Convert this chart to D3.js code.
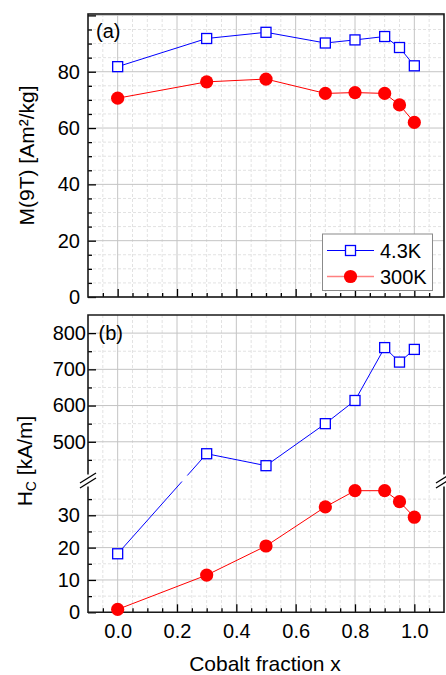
<!DOCTYPE html>
<html>
<head>
<meta charset="utf-8">
<script src="https://cdn.jsdelivr.net/npm/d3@7"></script>
<style>
body { margin: 0; background: #fff; }
text { font-family: "Liberation Sans", Arial, sans-serif; fill: #000; }
</style>
</head>
<body>
<div id="chart"></div>
<script>
/* data */
var cobalt = [0, 0.3, 0.5, 0.7, 0.8, 0.9, 0.95, 1.0];
var m43K = [81.8, 91.8, 94.0, 90.2, 91.3, 92.5, 88.6, 82.1];
var m300K = [70.6, 76.4, 77.4, 72.3, 72.6, 72.3, 68.2, 62.0];
var hc43K = [18.1, 467, 434, 550, 614, 760, 720, 755];
var hc300K = [0.9, 11.5, 20.5, 32.6, 37.6, 37.6, 34.2, 29.4];

var seriesNames = ["4.3K", "300K"];
var xTicks = [0, 0.2, 0.4, 0.6, 0.8, 1.0];
var mTicks = [0, 20, 40, 60, 80];
var hcLowTicks = [0, 10, 20, 30];
var hcHighTicks = [500, 600, 700, 800];

var width = 446,
    height = 675,
    left = 88,
    right = 444;

var blue = "#0000ff",
    red = "#ff0000";

var svg = d3.select("#chart")
    .append("svg")
    .attr("width", width)
    .attr("height", height);

/* scales */
var x = d3.scaleLinear().domain([-0.1, 1.1]).range([left, right]);
var yM = d3.scaleLinear().domain([0, 100.5]).range([297, 14]);
var yLow = d3.scaleLinear().domain([0, 40.6]).range([612.3, 481]);
var yHigh = d3.scaleLinear().domain([400, 850]).range([478, 315]);
var yHc = function(v) { return v < 100 ? yLow(v) : yHigh(v); };

var breakY = 480.5;

var near = function(a, b) { return Math.abs(a - b) < 1e-6; };
var xMinor = d3.range(-0.05, 1.09, 0.05).filter(function(v) {
    return !xTicks.some(function(t) { return near(t, v); });
});
var mMinor = d3.range(5, 100, 5).filter(function(v) { return v % 20 != 0; });
var lowMinor = [5, 15, 25, 35];
var highMinor = [450, 550, 650, 750];

/* gridlines */
var hGrid = function(g, scale, vals, x1, x2, minor) {
    g.selectAll(null)
        .data(vals)
        .enter().append("line")
        .attr("x1", x1).attr("x2", x2)
        .attr("y1", function(d) { return scale(d); })
        .attr("y2", function(d) { return scale(d); })
        .attr("stroke", minor ? "#e2e2e2" : "#c4c4c4")
        .attr("stroke-width", 1)
        .attr("stroke-dasharray", minor ? "3,2" : null);
}
var vGrid = function(g, vals, y1, y2, minor) {
    g.selectAll(null)
        .data(vals)
        .enter().append("line")
        .attr("x1", function(d) { return x(d); })
        .attr("x2", function(d) { return x(d); })
        .attr("y1", y1).attr("y2", y2)
        .attr("stroke", minor ? "#e2e2e2" : "#c4c4c4")
        .attr("stroke-width", 1)
        .attr("stroke-dasharray", minor ? "3,2" : null);
}

var grid = svg.append("g");
vGrid(grid, xMinor, 14, 297, true);
vGrid(grid, xMinor, 315, 612.3, true);
hGrid(grid, yM, mMinor, left, right, true);
hGrid(grid, yLow, lowMinor, left, right, true);
hGrid(grid, yHigh, highMinor, left, right, true);
vGrid(grid, xTicks, 14, 297, false);
vGrid(grid, xTicks, 315, 612.3, false);
hGrid(grid, yM, mTicks.concat([100]), left, right, false);
hGrid(grid, yLow, hcLowTicks, left, right, false);
hGrid(grid, yHigh, hcHighTicks, left, right, false);

/* axes with inward ticks */
var tickAxis = function(axis, vals, size, pad, labels) {
    return axis.tickValues(vals)
        .tickSizeInner(-size)
        .tickSizeOuter(0)
        .tickPadding(pad)
        .tickFormat(labels ? d3.format(labels) : "");
}
var styleAxis = function(g) {
    g.select(".domain").remove();
    g.selectAll(".tick line").attr("stroke", "#000").attr("stroke-width", 1.3);
    g.selectAll("text")
        .style("font-family", "'Liberation Sans', Arial, sans-serif")
        .style("font-size", "20px")
        .attr("fill", "#000");
}

// panel (a)
svg.append("g").attr("transform", "translate(0,297)")
    .call(tickAxis(d3.axisBottom(x), xTicks, 8, 4, null)).call(styleAxis);
svg.append("g").attr("transform", "translate(0,297)")
    .call(tickAxis(d3.axisBottom(x), xMinor, 4, 4, null)).call(styleAxis);
svg.append("g").attr("transform", "translate(" + left + ",0)")
    .call(tickAxis(d3.axisLeft(yM), mTicks.concat([100]), 8, 8, ".0f")).call(styleAxis)
    .selectAll(".tick").filter(function(d) { return d == 100; }).select("text").remove();
svg.append("g").attr("transform", "translate(" + left + ",0)")
    .call(tickAxis(d3.axisLeft(yM), mMinor, 4, 8, null)).call(styleAxis);

// panel (b)
svg.append("g").attr("transform", "translate(0,612.3)")
    .call(tickAxis(d3.axisBottom(x), xTicks, 8, 11.5, ".1f")).call(styleAxis);
svg.append("g").attr("transform", "translate(0,612.3)")
    .call(tickAxis(d3.axisBottom(x), xMinor, 4, 4, null)).call(styleAxis);
svg.append("g").attr("transform", "translate(" + left + ",0)")
    .call(tickAxis(d3.axisLeft(yLow), hcLowTicks, 8, 8, ".0f")).call(styleAxis);
svg.append("g").attr("transform", "translate(" + left + ",0)")
    .call(tickAxis(d3.axisLeft(yLow), lowMinor, 4, 8, null)).call(styleAxis);
svg.append("g").attr("transform", "translate(" + left + ",0)")
    .call(tickAxis(d3.axisLeft(yHigh), hcHighTicks, 8, 2, ".0f")).call(styleAxis);
svg.append("g").attr("transform", "translate(" + left + ",0)")
    .call(tickAxis(d3.axisLeft(yHigh), highMinor, 4, 8, null)).call(styleAxis);

/* frames */
var frame = svg.append("g")
    .attr("fill", "none")
    .attr("stroke", "#1a1a1a")
    .attr("stroke-width", 1.6);
frame.append("rect")
    .attr("x", left).attr("y", 14)
    .attr("width", right - left).attr("height", 297 - 14);
frame.append("path")
    .attr("d", "M" + left + "," + (breakY - 6) + "V315H" + right + "V" + (breakY - 6) +
               "M" + right + "," + (breakY + 6) + "V612.3H" + left + "V" + (breakY + 6));

/* axis break marks */
[left, right].forEach(function(cx) {
    [-2.5, 2.5].forEach(function(off) {
        svg.append("line")
            .attr("x1", cx - 8).attr("y1", breakY + 5 + off)
            .attr("x2", cx + 8).attr("y2", breakY - 5 + off)
            .attr("stroke", "#000")
            .attr("stroke-width", 1.3);
    });
});

/* lines */
var lineM = d3.line()
    .x(function(d, i) { return x(cobalt[i]); })
    .y(function(d) { return yM(d); });

svg.append("path").attr("d", lineM(m43K))
    .attr("fill", "none").attr("stroke", blue).attr("stroke-width", 1);
svg.append("path").attr("d", lineM(m300K))
    .attr("fill", "none").attr("stroke", red).attr("stroke-width", 1);

// Hc line, with a small gap where it crosses the broken axis
var breakPath = function(vals) {
    var p = d3.path();
    vals.forEach(function(v, i) {
        var px = x(cobalt[i]), py = yHc(v);
        if (i == 0) { p.moveTo(px, py); return; }
        var qx = x(cobalt[i - 1]), qy = yHc(vals[i - 1]);
        if ((vals[i - 1] < 100) != (v < 100)) {
            var yA = breakY + 1, yB = breakY - 5;
            if (qy < py) { var t = yA; yA = yB; yB = t; }
            var xA = qx + (px - qx) * (yA - qy) / (py - qy);
            var xB = qx + (px - qx) * (yB - qy) / (py - qy);
            p.lineTo(xA, yA);
            p.moveTo(xB, yB);
        }
        p.lineTo(px, py);
    });
    return p.toString();
}

svg.append("path").attr("d", breakPath(hc43K))
    .attr("fill", "none").attr("stroke", blue).attr("stroke-width", 1);
svg.append("path").attr("d", breakPath(hc300K))
    .attr("fill", "none").attr("stroke", red).attr("stroke-width", 1);

/* markers */
var squares = function(vals, yfun) {
    svg.append("g")
        .selectAll("rect")
        .data(vals)
        .enter().append("rect")
        .attr("x", function(d, i) { return x(cobalt[i]) - 5; })
        .attr("y", function(d) { return yfun(d) - 5; })
        .attr("width", 10).attr("height", 10)
        .attr("fill", "#fff")
        .attr("stroke", blue)
        .attr("stroke-width", 1.3);
}
var circles = function(vals, yfun) {
    svg.append("g")
        .selectAll("circle")
        .data(vals)
        .enter().append("circle")
        .attr("cx", function(d, i) { return x(cobalt[i]); })
        .attr("cy", function(d) { return yfun(d); })
        .attr("r", 6.6)
        .attr("fill", red);
}
squares(m43K, yM);
circles(m300K, yM);
squares(hc43K, yHc);
circles(hc300K, yHc);

/* legend */
var legend = svg.append("g");
legend.append("rect")
    .attr("x", 322.5).attr("y", 234)
    .attr("width", 110).attr("height", 56.5)
    .attr("fill", "#fff")
    .attr("stroke", "#8a8a8a")
    .attr("stroke-width", 1);
legend.append("line")
    .attr("x1", 327).attr("x2", 374).attr("y1", 250.5).attr("y2", 250.5)
    .attr("stroke", blue).attr("stroke-width", 1);
legend.append("rect")
    .attr("x", 345.5).attr("y", 245.5).attr("width", 10).attr("height", 10)
    .attr("fill", "#fff").attr("stroke", blue).attr("stroke-width", 1.3);
legend.append("line")
    .attr("x1", 327).attr("x2", 374).attr("y1", 276.5).attr("y2", 276.5)
    .attr("stroke", "#ff8080").attr("stroke-width", 1.5);
legend.append("circle")
    .attr("cx", 350.5).attr("cy", 276.5).attr("r", 6.6).attr("fill", red);
legend.selectAll("text")
    .data(seriesNames)
    .enter().append("text")
    .attr("x", 380)
    .attr("y", function(d, i) { return 257.5 + i * 26; })
    .style("font-size", "20px")
    .text(function(d) { return d; });

/* panel labels and titles */
svg.append("text").attr("x", 96).attr("y", 38).style("font-size", "20px").text("(a)");
svg.append("text").attr("x", 98.5).attr("y", 339.5).style("font-size", "20px").text("(b)");

svg.append("text")
    .attr("transform", "translate(34,155.5) rotate(-90)")
    .attr("text-anchor", "middle")
    .style("font-size", "21px")
    .text("M(9T) [Am²/kg]");

var hcTitle = svg.append("text")
    .attr("transform", "translate(32,461) rotate(-90)")
    .attr("text-anchor", "middle")
    .style("font-size", "21px");
hcTitle.append("tspan").text("H");
hcTitle.append("tspan").attr("dy", 4).style("font-size", "14px").text("C");
hcTitle.append("tspan").attr("dy", -4).text(" [kA/m]");

svg.append("text")
    .attr("x", 265).attr("y", 671)
    .attr("text-anchor", "middle")
    .style("font-size", "21px")
    .text("Cobalt fraction x");
</script>
</body>
</html>
